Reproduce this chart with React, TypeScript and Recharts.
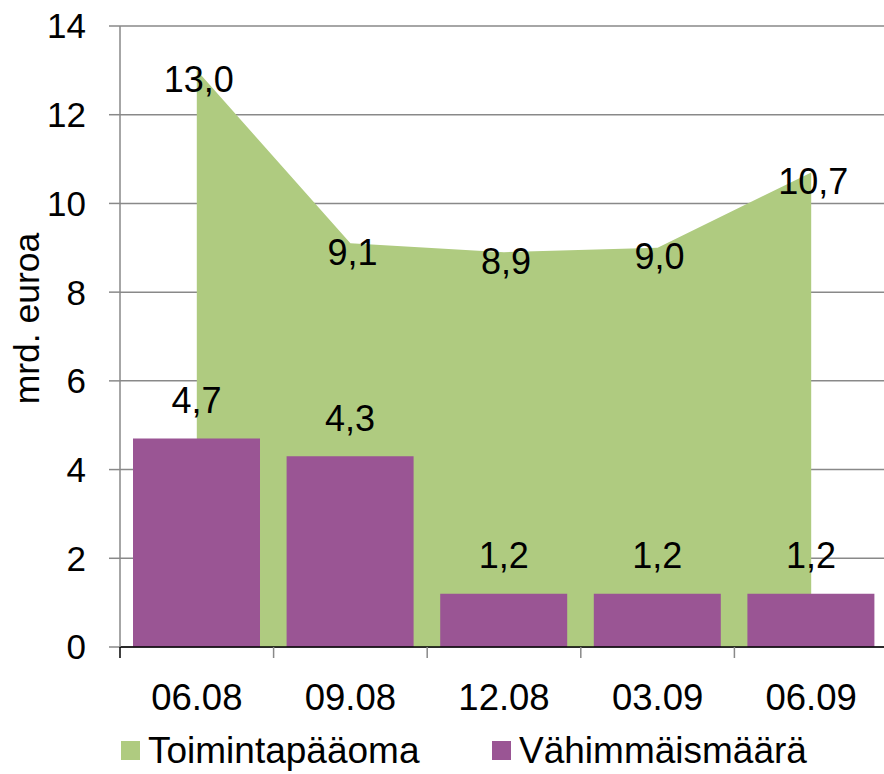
import { ComposedChart, Area, Bar, XAxis, YAxis, CartesianGrid, Legend, LabelList } from 'recharts';

const categories = ['06.08', '09.08', '12.08', '03.09', '06.09'];
const toimintapaaoma = [13.0, 9.1, 8.9, 9.0, 10.7];
const vahimmaismaara = [4.7, 4.3, 1.2, 1.2, 1.2];
const yTicks = [0, 2, 4, 6, 8, 10, 12, 14];

const data = categories.map((c, i) => ({
  name: c,
  toim: toimintapaaoma[i],
  vah: vahimmaismaara[i],
}));

const GREEN = '#AFCB80';
const PURPLE = '#9A5594';
const GRID = '#898989';
const FONT = '"Liberation Sans", Arial, sans-serif';

const CHART_W = 900;
const PLOT_LEFT = 120;
const PLOT_RIGHT = 888;
const PLOT_BOTTOM = 647;
const HALF_BAND = (PLOT_RIGHT - PLOT_LEFT) / categories.length / 2;

const fmt = (v: any) => Number(v).toFixed(1).replace('.', ',');

const XTick = (props: any) => {
  const { x, payload, index } = props;
  const lx = x - HALF_BAND;
  return (
    <g>
      <line x1={lx} y1={PLOT_BOTTOM} x2={lx} y2={PLOT_BOTTOM + 11} stroke={index === 0 ? '#000' : GRID} strokeWidth={1.5} />
      <text x={x} y={PLOT_BOTTOM + 50} textAnchor="middle" dominantBaseline="central" fontSize={36.5} fontFamily={FONT} fill="#000">
        {payload.value}
      </text>
    </g>
  );
};

const AreaLabel = (props: any) => {
  const { x, y, value } = props;
  return (
    <text x={x + 2} y={y + 9} textAnchor="middle" dominantBaseline="central" fontSize={36} fontFamily={FONT} fill="#000">
      {fmt(value)}
    </text>
  );
};

const BarLabel = (props: any) => {
  const { x, y, width, value } = props;
  return (
    <text x={x + width / 2} y={y - 38} textAnchor="middle" dominantBaseline="central" fontSize={36} fontFamily={FONT} fill="#000">
      {fmt(value)}
    </text>
  );
};

const renderLegend = () => {
  const item = (left: number, color: string, label: string) => (
    <div style={{ position: 'absolute', left, top: 0, display: 'flex', alignItems: 'center', height: 47 }}>
      <div style={{ width: 19, height: 19, background: color, marginRight: 8 }} />
      <span style={{ fontSize: 37, fontFamily: FONT, color: '#000', lineHeight: '47px' }}>{label}</span>
    </div>
  );
  return (
    <div style={{ position: 'relative', width: CHART_W, height: 47 }}>
      {item(121, GREEN, 'Toimintapääoma')}
      {item(492, PURPLE, 'Vähimmäismäärä')}
    </div>
  );
};

export default function App() {
  return (
    <div style={{ position: 'absolute', top: 0, left: 0, width: 884, height: 774, overflow: 'hidden', background: '#fff' }}>
      <ComposedChart
        width={CHART_W}
        height={774}
        data={data}
        margin={{ top: 26, right: CHART_W - PLOT_RIGHT, left: 0, bottom: 0 }}
      >
        <CartesianGrid vertical={false} stroke={GRID} strokeWidth={1.5} />
        <XAxis
          dataKey="name"
          height={80}
          axisLine={{ stroke: '#000', strokeWidth: 1.5 }}
          tickLine={false}
          tick={<XTick />}
          interval={0}
        />
        <YAxis
          width={PLOT_LEFT}
          domain={[0, 14]}
          ticks={yTicks}
          axisLine={{ stroke: GRID, strokeWidth: 1.5 }}
          tickLine={{ stroke: GRID, strokeWidth: 1.5 }}
          tickSize={11}
          tickMargin={23}
          tick={{ fontSize: 35, fontFamily: FONT, fill: '#000' }}
          label={{
            value: 'mrd. euroa',
            content: (p: any) => {
              const vb = p.viewBox;
              const cx = 27;
              const cy = vb.y + vb.height / 2 - 18;
              return (
                <text transform={`translate(${cx},${cy}) rotate(-90)`} textAnchor="middle" dominantBaseline="central" fontSize={35.5} fontFamily={FONT} fill="#000">
                  mrd. euroa
                </text>
              );
            },
          }}
        />
        <Legend verticalAlign="bottom" height={47} content={renderLegend} wrapperStyle={{ left: 0, bottom: 0 }} />
        <Area
          type="linear"
          dataKey="toim"
          name="Toimintapääoma"
          fill={GREEN}
          fillOpacity={1}
          stroke="none"
          isAnimationActive={false}
        >
          <LabelList dataKey="toim" content={<AreaLabel />} />
        </Area>
        <Bar dataKey="vah" name="Vähimmäismäärä" fill={PURPLE} barSize={127} isAnimationActive={false}>
          <LabelList dataKey="vah" content={<BarLabel />} />
        </Bar>
      </ComposedChart>
    </div>
  );
}
